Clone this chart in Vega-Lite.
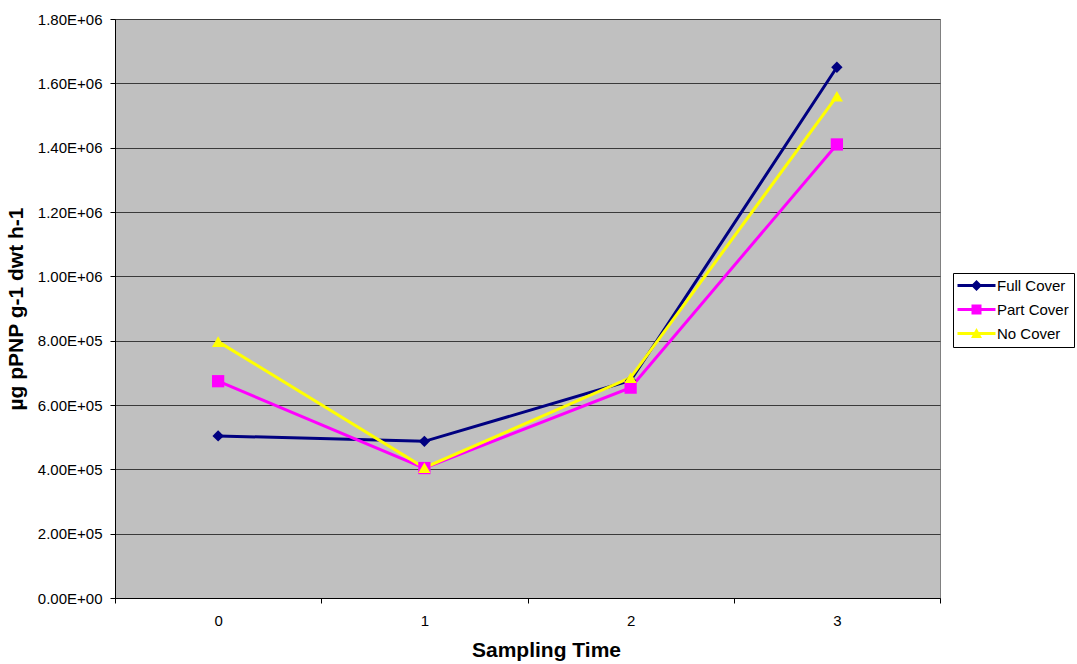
{
  "$schema": "https://vega.github.io/schema/vega-lite/v6.json",
  "width": 825,
  "height": 579,
  "autosize": {"type": "none"},
  "padding": {"left": 115, "top": 19, "right": 137, "bottom": 66},
  "background": "#ffffff",
  "config": {
    "font": "Liberation Sans",
    "view": {"fill": "#c0c0c0", "stroke": "#808080", "strokeWidth": 1}
  },
  "data": {
    "values": [
      {"t": "0", "series": "Full Cover", "v": 504000},
      {"t": "1", "series": "Full Cover", "v": 487000},
      {"t": "2", "series": "Full Cover", "v": 676000},
      {"t": "3", "series": "Full Cover", "v": 1650000},
      {"t": "0", "series": "Part Cover", "v": 674000},
      {"t": "1", "series": "Part Cover", "v": 404000},
      {"t": "2", "series": "Part Cover", "v": 654000},
      {"t": "3", "series": "Part Cover", "v": 1410000},
      {"t": "0", "series": "No Cover", "v": 797000},
      {"t": "1", "series": "No Cover", "v": 405000},
      {"t": "2", "series": "No Cover", "v": 685000},
      {"t": "3", "series": "No Cover", "v": 1560000}
    ]
  },
  "encoding": {
    "x": {
      "field": "t",
      "type": "ordinal",
      "bandPosition": 0.5,
      "scale": {"type": "band", "paddingInner": 0, "paddingOuter": 0},
      "axis": {
        "title": "Sampling Time",
        "titleFont": "Liberation Sans",
        "titleFontSize": 21,
        "titleFontWeight": "bold",
        "titleColor": "#000000",
        "titleX": 431,
        "titleAlign": "center",
        "titlePadding": 11,
        "labelFontSize": 15,
        "labelColor": "#000000",
        "labelAngle": 0,
        "labelPadding": 10,
        "tickBand": "extent",
        "tickSize": 5,
        "tickColor": "#000000",
        "domainColor": "#000000",
        "grid": false
      }
    },
    "y": {
      "field": "v",
      "type": "quantitative",
      "scale": {"domain": [0, 1800000], "nice": false, "zero": true},
      "axis": {
        "title": "µg pPNP g-1 dwt h-1",
        "titleFont": "Liberation Sans",
        "titleFontSize": 21,
        "titleFontWeight": "bold",
        "titleColor": "#000000",
        "titlePadding": 11,
        "values": [0, 200000, 400000, 600000, 800000, 1000000, 1200000, 1400000, 1600000, 1800000],
        "labelExpr": "datum.value == 0 ? '0.00E+00' : (datum.value < 1000000 ? format(datum.value / 100000, '.2f') + 'E+05' : format(datum.value / 1000000, '.2f') + 'E+06')",
        "labelFontSize": 15,
        "labelColor": "#000000",
        "labelPadding": 8,
        "tickSize": 5,
        "tickColor": "#000000",
        "domainColor": "#000000",
        "grid": true,
        "gridColor": "#3a3a3a",
        "gridWidth": 1
      }
    },
    "color": {
      "field": "series",
      "type": "nominal",
      "sort": ["Full Cover", "Part Cover", "No Cover"],
      "scale": {
        "domain": ["Full Cover", "Part Cover", "No Cover"],
        "range": ["#000080", "#ff00ff", "#ffff00"]
      },
      "legend": {
        "title": null,
        "orient": "none",
        "legendX": 838,
        "legendY": 254,
        "padding": 5,
        "fillColor": "#ffffff",
        "strokeColor": "#000000",
        "labelFontSize": 15,
        "labelColor": "#000000",
        "labelOffset": 13,
        "symbolSize": 100,
        "symbolOffset": 11,
        "symbolStrokeWidth": 0,
        "symbolOpacity": 1,
        "rowPadding": 8,
        "encode": {
          "symbols": {
            "update": {
              "shape": {
                "signal": "datum.value === 'Full Cover' ? 'M-3.8,-0.3H3.8V0.3H-3.8Z M0,-1.1L1.1,0L0,1.1L-1.1,0Z' : (datum.value === 'Part Cover' ? 'M-3.8,-0.3H3.8V0.3H-3.8Z M-1,-1H1V1H-1Z' : 'M-3.8,-0.3H3.8V0.3H-3.8Z M0,-1.1L1.1,0.9L-1.1,0.9Z')"
              },
              "fill": {"signal": "datum.value === 'Full Cover' ? '#000080' : (datum.value === 'Part Cover' ? '#ff00ff' : '#ffff00')"},
              "size": {"value": 100},
              "opacity": {"value": 1}
            }
          }
        }
      }
    }
  },
  "layer": [
    {
      "mark": {"type": "line", "strokeWidth": 3},
      "encoding": {"detail": {"field": "series"}}
    },
    {
      "transform": [{"filter": "datum.series === 'Full Cover'"}],
      "mark": {"type": "point", "shape": "diamond", "filled": true, "opacity": 1, "size": 130}
    },
    {
      "transform": [{"filter": "datum.series === 'Part Cover'"}],
      "mark": {"type": "point", "shape": "square", "filled": true, "opacity": 1, "size": 150}
    },
    {
      "transform": [{"filter": "datum.series === 'No Cover'"}],
      "mark": {"type": "point", "shape": "triangle-up", "filled": true, "opacity": 1, "size": 150}
    }
  ]
}
